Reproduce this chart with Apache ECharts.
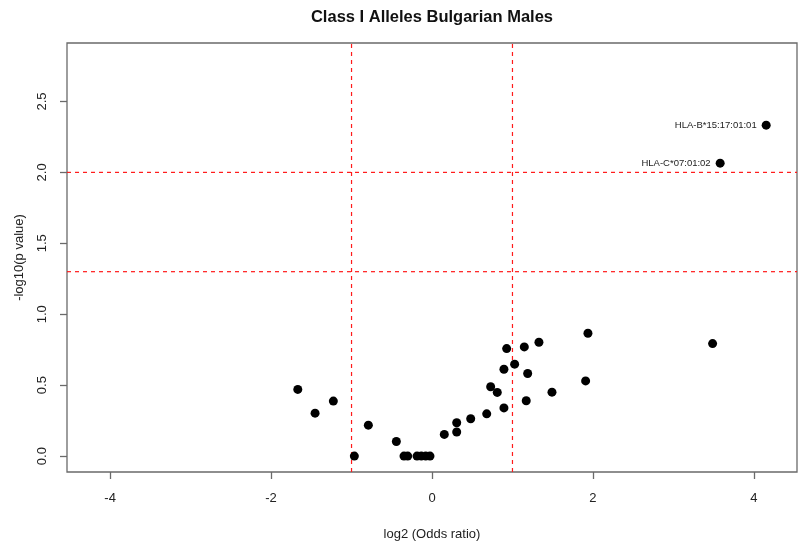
<!DOCTYPE html>
<html>
<head>
<meta charset="utf-8">
<script src="https://cdn.jsdelivr.net/npm/echarts@6/dist/echarts.min.js"></script>
<style>html,body{margin:0;padding:0;background:#fff}#c{width:800px;height:542px}</style>
</head>
<body>
<div id="c"></div>
<script>
const titleText = "Class I Alleles Bulgarian Males";
const xTitle = "log2 (Odds ratio)";
const yTitle = "-log10(p value)";
const xTicks = [-4, -2, 0, 2, 4];
const yTicks = [0, 0.5, 1.0, 1.5, 2.0, 2.5];
const xVals = [-1.668, -1.453, -1.226, -0.965, -0.791, -0.443, -0.348, -0.302, -0.186, -0.133, -0.078, -0.025,
  0.153, 0.307, 0.307, 0.481, 0.680, 0.729, 0.811, 0.894, 0.894, 0.928, 1.027, 1.147, 1.189, 1.171, 1.329,
  1.491, 1.909, 1.938, 3.487];
const yVals = [0.470, 0.303, 0.388, 0, 0.218, 0.103, 0, 0, 0, 0, 0, 0,
  0.153, 0.170, 0.235, 0.263, 0.298, 0.489, 0.449, 0.340, 0.612, 0.758, 0.648, 0.770, 0.582, 0.390, 0.803,
  0.451, 0.530, 0.866, 0.793];
const labNames = ["HLA-B*15:17:01:01", "HLA-C*07:01:02"];
const labX = [4.153, 3.581];
const labY = [2.333, 2.065];
const vLines = [-1, 1];
const hLines = [1.3, 2];
const xRange = [-4.536, 4.536];
const yRange = [-0.112, 2.912];

const font = "Liberation Sans, Arial, sans-serif";
const chart = echarts.init(document.getElementById('c'), null, {renderer: 'canvas'});
const pts = xVals.map((x, i) => [x, yVals[i]]);
const labPts = labX.map((x, i) => ({value: [x, labY[i]], name: labNames[i]}));
const dashStyle = {type: [4, 4], color: '#ff1a1a', width: 1.2, opacity: 1};
const refSeries = vLines.map(v => [[v, yRange[0]], [v, yRange[1]]])
  .concat(hLines.map(v => [[xRange[0], v], [xRange[1], v]]))
  .map(d => ({
    type: 'line', data: d, symbol: 'none', silent: true, z: 1,
    lineStyle: dashStyle, itemStyle: {color: '#ff1a1a'}, emphasis: {disabled: true}
  }));

chart.setOption({
  animation: false,
  backgroundColor: '#fff',
  title: {
    text: titleText, left: 427, top: 4, textAlign: 'center',
    textStyle: {fontFamily: font, fontWeight: 'bold', fontSize: 16.5, color: '#111'}
  },
  grid: {left: 67, right: 3, top: 43, bottom: 70, outerBoundsMode: 'none', containLabel: false,
    show: true, borderColor: '#6a6a6a', borderWidth: 1.3, backgroundColor: 'transparent'},
  xAxis: {
    type: 'value', min: xRange[0], max: xRange[1],
    name: xTitle, nameLocation: 'middle', nameGap: 56,
    nameTextStyle: {fontFamily: font, fontSize: 13, color: '#222'},
    axisLine: {show: false, onZero: false},
    splitLine: {show: false},
    axisTick: {show: true, inside: false, length: 7, customValues: xTicks, lineStyle: {color: '#6a6a6a', width: 1.3}},
    axisLabel: {customValues: xTicks, margin: 20, fontFamily: font, fontSize: 13, color: '#222'}
  },
  yAxis: {
    type: 'value', min: yRange[0], max: yRange[1],
    name: yTitle, nameLocation: 'middle', nameGap: 41, nameRotate: 90,
    nameTextStyle: {fontFamily: font, fontSize: 13, color: '#222'},
    axisLine: {show: false, onZero: false},
    splitLine: {show: false},
    axisTick: {show: true, inside: false, length: 7, customValues: yTicks, lineStyle: {color: '#6a6a6a', width: 1.3}},
    axisLabel: {customValues: yTicks, rotate: 90, margin: 18, fontFamily: font, fontSize: 13, color: '#222',
      formatter: v => v.toFixed(1)}
  },
  series: refSeries.concat([
    {
      type: 'scatter', data: pts, symbol: 'circle', symbolSize: 9, z: 3,
      itemStyle: {color: '#000', opacity: 1}
    },
    {
      type: 'scatter', data: labPts, symbol: 'circle', symbolSize: 9, z: 3,
      itemStyle: {color: '#000', opacity: 1},
      label: {show: true, position: 'left', distance: 5, formatter: p => p.name,
        fontFamily: font, fontSize: 9.5, color: '#222'}
    }
  ])
});
</script>
</body>
</html>
